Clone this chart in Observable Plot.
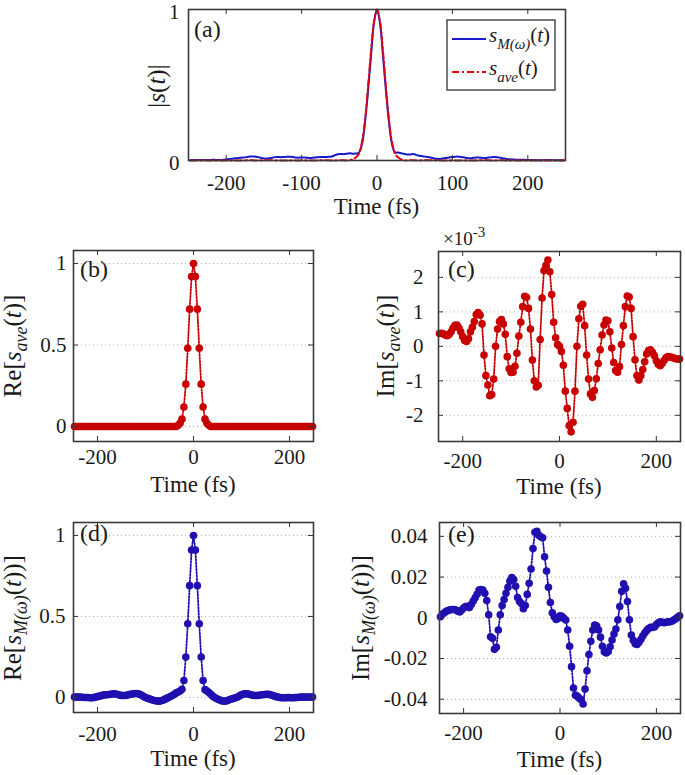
<!DOCTYPE html>
<html><head><meta charset="utf-8">
<script src="https://cdn.jsdelivr.net/npm/d3@7"></script>
<script src="https://cdn.jsdelivr.net/npm/@observablehq/plot@0.6"></script>
<style>
body{margin:0;background:#fff;}
#fig{position:relative;width:685px;height:775px;overflow:hidden;background:#fff;}
#fig svg{position:absolute;overflow:visible;}
</style></head><body><div id="fig"></div>
<script>
// ---------- data (time grid in fs, 4 fs step) ----------
const time = d3.range(-248, 249, 4);

// Re[s_ave(t)]
const reAve = [
  0,0,0,0,0,0,0,0,0,0,
  0,0,0,0,0,0,0,0,0,0,
  0,0,0,0,0,0,0,0,0,0,
  0,0,0,0,0,0,0,0,0,0,
  0,0,0,0,0,0,0,0,0,0,
  0,0,0,0,0.008,0.02,0.045,0.12,0.26,0.48,
  0.72,0.92,1.0,
  0.92,0.72,0.48,0.26,0.12,0.045,0.02,
  0.008,0,0,0,0,0,0,0,0,0,
  0,0,0,0,0,0,0,0,0,0,
  0,0,0,0,0,0,0,0,0,0,
  0,0,0,0,0,0,0,0,0,0,
  0,0,0,0,0,0,0,0,0,0,
  0,0,0,0,0
];
// Im[s_ave(t)] in units of 1e-3
const imAve = [
  0.37,0.38,0.36,0.33,0.31,0.34,0.42,0.53,0.61,0.62,
  0.54,0.42,0.28,0.17,0.14,0.22,0.42,0.55,0.72,0.92,
  0.98,0.90,0.65,-0.25,-0.85,-1.12,-1.43,-1.40,-0.95,0.0,
  0.5,0.72,0.78,0.65,0.35,-0.3,-0.65,-0.76,-0.75,-0.58,
  -0.2,0.3,0.7,1.15,1.45,1.42,1.1,0.5,-0.4,-1.0,
  -1.18,-1.13,0.2,1.4,2.2,2.35,2.5,2.16,1.5,0.7,
  0.25,0.05,0.0,
  -0.15,-0.55,-1.3,-1.8,-2.3,-2.48,-2.2,
  -1.3,0.0,0.8,1.16,1.22,0.6,-0.25,-0.95,-1.38,-1.48,
  -1.28,-0.94,-0.5,-0.1,0.33,0.62,0.76,0.74,0.42,-0.05,
  -0.47,-0.7,-0.75,-0.59,0.05,0.6,1.15,1.46,1.43,1.1,
  0.28,-0.39,-0.85,-0.98,-0.85,-0.67,-0.45,-0.22,-0.12,-0.1,
  -0.17,-0.27,-0.42,-0.52,-0.56,-0.5,-0.41,-0.33,-0.3,-0.31,
  -0.32,-0.34,-0.36,-0.37,-0.37
];
// Re[s_M(w)(t)]
const reM = [
  0.002,0.002,0.002,0.002,0.001,0.0,0.0,0.0,-0.002,-0.002,
  -0.001,0.002,0.005,0.008,0.011,0.014,0.016,0.017,0.018,0.02,
  0.022,0.023,0.02,0.016,0.013,0.012,0.012,0.013,0.016,0.019,
  0.021,0.023,0.024,0.023,0.02,0.013,0.006,0.0,-0.005,-0.009,
  -0.013,-0.017,-0.02,-0.022,-0.023,-0.021,-0.017,-0.012,-0.006,0.0,
  0.006,0.012,0.02,0.028,0.034,0.04,0.05,0.105,0.25,0.455,
  0.69,0.91,1.0,
  0.91,0.69,0.455,0.25,0.105,0.048,0.04,
  0.03,0.02,0.008,0.0,-0.007,-0.013,-0.018,-0.022,-0.023,-0.022,
  -0.018,-0.013,-0.009,-0.005,-0.002,0.003,0.01,0.016,0.021,0.023,
  0.022,0.019,0.016,0.013,0.012,0.012,0.013,0.015,0.017,0.018,
  0.019,0.019,0.017,0.013,0.009,0.005,0.002,0.0,-0.002,-0.002,
  -0.002,-0.001,-0.001,-0.002,-0.002,-0.001,0.0,0.001,0.002,0.002,
  0.002,0.002,0.002,0.002,0.002
];
// Im[s_M(w)(t)]
const imM = [
  0.0005,0.0017,0.0025,0.0032,0.0036,0.0039,0.0041,0.0041,0.0038,0.0032,
  0.0029,0.0038,0.0048,0.0055,0.0056,0.0050,0.0065,0.0082,0.0098,0.0116,
  0.0136,0.0139,0.0136,0.0120,0.0085,0.0015,-0.0093,-0.0101,-0.0155,-0.0145,
  -0.0060,0.0015,0.0060,0.0090,0.0120,0.0150,0.0180,0.0198,0.0188,0.0155,
  0.0100,0.0080,0.0070,0.0045,0.0060,0.0115,0.0170,0.0240,0.0340,0.0420,
  0.0425,0.0405,0.0398,0.0393,0.0300,0.0230,0.0150,0.0075,0.0025,0.0005,
  -0.0008,-0.0003,0.0010,
  0.0007,-0.0002,-0.0011,-0.0060,-0.0140,-0.0240,-0.0345,
  -0.0380,-0.0386,-0.0395,-0.0403,-0.0423,-0.0350,-0.0260,-0.0180,-0.0115,-0.0060,
  -0.0036,-0.0040,-0.0060,-0.0095,-0.0140,-0.0167,-0.0173,-0.0165,-0.0142,-0.0109,
  -0.0080,-0.0055,-0.0010,0.0055,0.0130,0.0167,0.0145,0.0080,-0.0010,-0.0085,
  -0.0110,-0.0128,-0.0131,-0.0120,-0.0105,-0.0088,-0.0074,-0.0062,-0.0053,-0.0047,
  -0.0047,-0.0045,-0.0033,-0.0025,-0.0020,-0.0022,-0.0024,-0.0022,-0.0020,-0.0020,
  -0.0017,-0.0011,-0.0005,0.0002,0.0010
];

// ticks
const xTicksA = [-200, -100, 0, 100, 200];
const yTicksA = [0, 1];
const xTicks = [-200, 0, 200];
const yTicksRe = [0, 0.5, 1];
const yTicksImAve = [-2, -1, 0, 1, 2];
const yTicksImM = [-0.04, -0.02, 0, 0.02, 0.04];

// ---------- style ----------
const FONT = '"Liberation Serif","Times New Roman",serif';
const INK = "#1a1a1a";
const RED = "#c80000";
const BLUE = "#2010b0";
const LBLUE = "#1a1acd";
const LRED = "#e8000b";
const TICK = 21, TITLE = 23, YLAB = 25, PLAB = 24;
const fig = document.getElementById("fig");

const dataA = time.map((t, i) => ({
  t,
  sAve: Math.hypot(reAve[i], imAve[i] * 1e-3),
  sM: Math.hypot(reM[i], imM[i])
}));
const dB = time.map((t, i) => ({t, v: reAve[i]}));
const dC = time.map((t, i) => ({t, v: imAve[i]}));
const dD = time.map((t, i) => ({t, v: reM[i]}));
const dE = time.map((t, i) => ({t, v: imM[i]}));

function innerTicks(xt, yt, xd, yd, w, h) {
  const lx = (xd[1] - xd[0]) * 5 / w, ly = (yd[1] - yd[0]) * 5 / h;
  const o = {stroke: "#333", strokeWidth: 1};
  return [
    Plot.ruleX(xt, {x: d => d, y1: yd[0], y2: yd[0] + ly, ...o}),
    Plot.ruleX(xt, {x: d => d, y1: yd[1], y2: yd[1] - ly, ...o}),
    Plot.ruleY(yt, {y: d => d, x1: xd[0], x2: xd[0] + lx, ...o}),
    Plot.ruleY(yt, {y: d => d, x1: xd[1], x2: xd[1] - lx, ...o})
  ];
}

function panel(cfg) {
  const {left, top, width, height, m, xd, yd, xt, yt, padX, padY, marks, grid, yDy = 0} = cfg;
  const w = width - m[1] - m[3], h = height - m[0] - m[2];
  const svg = Plot.plot({
    width, height,
    marginTop: m[0], marginRight: m[1], marginBottom: m[2], marginLeft: m[3],
    style: {fontFamily: FONT, fontSize: TICK + "px", color: INK, background: "transparent"},
    x: {domain: xd},
    y: {domain: yd},
    marks: [
      grid ? Plot.gridY(yt, {stroke: "#9a9a9a", strokeOpacity: 0.8, strokeDasharray: "1,3", strokeWidth: 1}) : null,
      ...marks,
      ...innerTicks(xt, yt, xd, yd, w, h),
      Plot.axisX(xt, {tickSize: 0, tickPadding: padX, label: null, tickFormat: d => String(d), fontSize: TICK}),
      Plot.axisY(yt, {tickSize: 0, tickPadding: padY, label: null, tickFormat: d => String(d), fontSize: TICK, dy: yDy}),
      Plot.frame({stroke: "#3a3a3a", strokeWidth: 1.6})
    ]
  });
  svg.style.left = left + "px";
  svg.style.top = top + "px";
  fig.appendChild(svg);
  return svg;
}

function rich(svg, {x, y, parts, size = TITLE, anchor = "start", rotate = 0, subSize = 15, subShift = 6, supShift = 8}) {
  const t = d3.select(svg).append("text")
    .attr("transform", `translate(${x},${y})` + (rotate ? ` rotate(${rotate})` : ""))
    .attr("text-anchor", anchor).attr("font-family", FONT).attr("font-size", size).attr("fill", INK);
  let shift = 0;
  for (const p of parts) {
    const ts = t.append("tspan").text(p.t);
    if (p.i) ts.attr("font-style", "italic");
    if (p.sub || p.sup) ts.attr("font-size", subSize);
    const target = p.sub ? subShift : p.sup ? -supShift : 0;
    if (target !== shift) { ts.attr("dy", target - shift); shift = target; }
  }
  return t;
}

const dotted = (data, color) => [
  Plot.line(data, {x: "t", y: "v", stroke: color, strokeWidth: 1.8, strokeDasharray: "1.6,1.6"}),
  Plot.dot(data, {x: "t", y: "v", r: 3.8, fill: color, stroke: "none"})
];
const timeLabel = [{t: "Time (fs)"}];

// ---------- (a) ----------
const sa = panel({
  left: 0, top: 0, width: 685, height: 215, m: [9, 120, 55, 188],
  xd: [-250, 250], yd: [0, 1], xt: xTicksA, yt: yTicksA, padX: 15, padY: 9, yDy: 3,
  marks: [
    Plot.line(dataA, {x: "t", y: "sM", stroke: LBLUE, strokeWidth: 2, curve: "catmull-rom"}),
    Plot.line(dataA, {x: "t", y: "sAve", stroke: LRED, strokeWidth: 2, strokeDasharray: "7,3,2,3", curve: "catmull-rom"})
  ]
});
rich(sa, {x: 194, y: 37, parts: [{t: "(a)"}], size: PLAB});
rich(sa, {x: 165, y: 86, rotate: -90, anchor: "middle", size: YLAB,
  parts: [{t: "|"}, {t: "s", i: true}, {t: "("}, {t: "t", i: true}, {t: ")|"}]});
rich(sa, {x: 376.5, y: 214, anchor: "middle", parts: timeLabel});
// legend
const lg = d3.select(sa).append("g");
lg.append("rect").attr("x", 447).attr("y", 20).attr("width", 108).attr("height", 70)
  .attr("fill", "#fff").attr("stroke", "#333").attr("stroke-width", 1.3);
lg.append("line").attr("x1", 452).attr("x2", 486).attr("y1", 39).attr("y2", 39)
  .attr("stroke", LBLUE).attr("stroke-width", 2);
lg.append("line").attr("x1", 452).attr("x2", 486).attr("y1", 72).attr("y2", 72)
  .attr("stroke", LRED).attr("stroke-width", 2).attr("stroke-dasharray", "7,3,2,3");
rich(sa, {x: 489, y: 42, size: 21, subSize: 15, subShift: 7,
  parts: [{t: "s", i: true}, {t: "M(ω)", i: true, sub: true}, {t: "("}, {t: "t", i: true}, {t: ")"}]});
rich(sa, {x: 489, y: 75, size: 21, subSize: 15, subShift: 7,
  parts: [{t: "s", i: true}, {t: "ave", i: true, sub: true}, {t: "("}, {t: "t", i: true}, {t: ")"}]});

// ---------- (b) ----------
const sb = panel({
  left: 0, top: 215, width: 340, height: 285, m: [35, 27, 59, 73],
  xd: [-250, 250], yd: [-0.092, 1.08], xt: xTicks, yt: yTicksRe, padX: 8, padY: 7, grid: true,
  marks: dotted(dB, RED)
});
rich(sb, {x: 80, y: 62, parts: [{t: "(b)"}], size: PLAB});
rich(sb, {x: 21, y: 131, rotate: -90, anchor: "middle", size: YLAB, subSize: 18, subShift: 6,
  parts: [{t: "Re["}, {t: "s", i: true}, {t: "ave", i: true, sub: true}, {t: "("}, {t: "t", i: true}, {t: ")]"}]});
rich(sb, {x: 193, y: 277, anchor: "middle", parts: timeLabel});

// ---------- (c) ----------
const sc = panel({
  left: 340, top: 215, width: 345, height: 285, m: [36, 5, 59, 98],
  xd: [-250, 250], yd: [-2.76, 2.75], xt: xTicks, yt: yTicksImAve, padX: 12, padY: 15, grid: true,
  marks: dotted(dC, RED)
});
rich(sc, {x: 108, y: 62, parts: [{t: "(c)"}], size: PLAB});
rich(sc, {x: 103, y: 30, size: 19, subSize: 15, supShift: 8,
  parts: [{t: "×10"}, {t: "-3", sup: true}]});
rich(sc, {x: 54, y: 131, rotate: -90, anchor: "middle", size: YLAB, subSize: 18, subShift: 6,
  parts: [{t: "Im["}, {t: "s", i: true}, {t: "ave", i: true, sub: true}, {t: "("}, {t: "t", i: true}, {t: ")]"}]});
rich(sc, {x: 219, y: 279, anchor: "middle", parts: timeLabel});

// ---------- (d) ----------
const sd = panel({
  left: 0, top: 500, width: 340, height: 275, m: [22, 27, 63, 73],
  xd: [-250, 250], yd: [-0.093, 1.08], xt: xTicks, yt: yTicksRe, padX: 14, padY: 8, grid: true,
  marks: dotted(dD, BLUE)
});
rich(sd, {x: 80, y: 41, parts: [{t: "(d)"}], size: PLAB});
rich(sd, {x: 21, y: 118, rotate: -90, anchor: "middle", size: YLAB, subSize: 18, subShift: 6,
  parts: [{t: "Re["}, {t: "s", i: true}, {t: "M(ω)", i: true, sub: true}, {t: "("}, {t: "t", i: true}, {t: "))]"}]});
rich(sd, {x: 193, y: 266, anchor: "middle", parts: timeLabel});

// ---------- (e) ----------
const se = panel({
  left: 340, top: 500, width: 345, height: 275, m: [22, 5, 62, 99],
  xd: [-250, 250], yd: [-0.047, 0.0468], xt: xTicks, yt: yTicksImM, padX: 12, padY: 12, grid: true,
  marks: dotted(dE, BLUE)
});
rich(se, {x: 108, y: 42, parts: [{t: "(e)"}], size: PLAB});
rich(se, {x: 29, y: 118, rotate: -90, anchor: "middle", size: YLAB, subSize: 18, subShift: 6,
  parts: [{t: "Im["}, {t: "s", i: true}, {t: "M(ω)", i: true, sub: true}, {t: "("}, {t: "t", i: true}, {t: "))]"}]});
rich(se, {x: 219.5, y: 267, anchor: "middle", parts: timeLabel});
</script>
</body></html>
